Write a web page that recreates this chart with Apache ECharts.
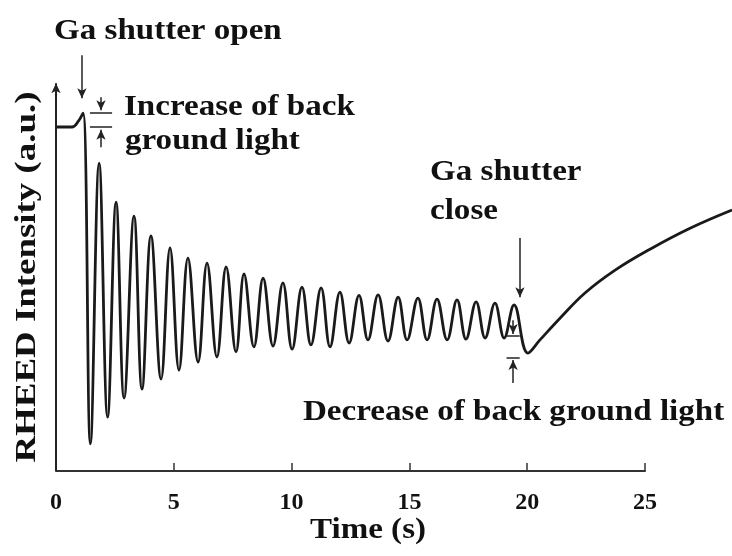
<!DOCTYPE html>
<html>
<head>
<meta charset="utf-8">
<script src="https://cdn.jsdelivr.net/npm/echarts@6/dist/echarts.min.js"></script>
<style>
  html, body { margin: 0; padding: 0; background: #ffffff; }
  #chart { width: 732px; height: 556px; }
</style>
</head>
<body>
<div id="chart"></div>
<script>
// ---- Data ----
// time (s) of each turning point of the RHEED trace
const timeS = [0, 0.68, 0.95, 1.15,
  1.46, 1.83, 2.19, 2.55, 2.89, 3.31, 3.65, 4.03, 4.46, 4.84, 5.22, 5.60, 6.03, 6.41, 6.83, 7.22,
  7.64, 7.98, 8.40, 8.79, 9.21, 9.63, 10.02, 10.44, 10.82, 11.25, 11.63, 12.05, 12.44, 12.86,
  13.24, 13.67, 14.09, 14.52, 14.90, 15.36, 15.75, 16.17, 16.60, 17.02, 17.40, 17.83, 18.21, 18.63, 19.02, 19.44,
  20.03, 20.54, 21.39, 22.45, 23.73, 25.21, 26.91, 28.69];
// RHEED intensity (a.u.) at those times
const intensity = [88.7, 88.7, 90.2, 92.3,
  7.0, 79.4, 13.9, 69.3, 18.8, 65.7, 21.1, 60.6, 23.7, 57.5, 26.0, 54.9, 28.1, 53.6, 29.4, 52.6,
  30.7, 50.8, 32.0, 49.7, 32.2, 48.5, 31.4, 47.4, 32.5, 47.2, 32.0, 46.1, 33.0, 45.3,
  33.8, 45.4, 33.5, 44.8, 33.8, 44.6, 33.8, 44.3, 33.8, 44.1, 34.0, 43.6, 34.3, 43.3, 34.3, 42.8,
  30.4, 33.8, 39.4, 45.9, 51.8, 57.2, 62.6, 67.3];

const xTickLabels = ['0', '5', '10', '15', '20', '25'];
const xTitle = 'Time (s)';
const yTitle = 'RHEED Intensity (a.u.)';

// annotation segments [from, to] in data units (time, intensity)
const yAxisArrow   = [[0, 0], [0, 100]];
const openArrow    = [[1.10, 107.2], [1.10, 96.1]];
const incTopArrow  = [[1.91, 96.4], [1.91, 93.0]];
const incTopBar    = [[1.44, 92.5], [2.38, 92.5]];
const incBotBar    = [[1.44, 88.7], [2.38, 88.7]];
const incBotArrow  = [[1.91, 83.5], [1.91, 88.0]];
const closeArrow   = [[19.69, 60.1], [19.69, 44.8]];
const decTopArrow  = [[19.40, 38.9], [19.40, 35.3]];
const decTopBar    = [[19.12, 34.8], [19.68, 34.8]];
const decBotBar    = [[19.12, 29.1], [19.68, 29.1]];
const decBotArrow  = [[19.40, 22.7], [19.40, 28.6]];

const annotationTexts = [
  'Ga shutter open', 'Increase of back', 'ground light',
  'Ga shutter', 'close', 'Decrease of back ground light'
];

// ---- Build chart ----
const FONT = '"Liberation Serif", "Times New Roman", serif';
const X_AXIS_END = 25;      // drawn axis ends at 25 s
const X_VIEW_END = 28.69;   // the trace runs on to the right edge of the figure
const Y_TOP = 115;          // room above the y-axis arrow for the annotations
const points = timeS.map((t, i) => [t, intensity[i]]);

function seg(s, arrow, width) {
  return [
    { coord: s[0], symbol: 'none' },
    { coord: s[1], symbol: arrow ? 'arrow' : 'none',
      lineStyle: { width: width || 1.5 } }
  ];
}

const chart = echarts.init(document.getElementById('chart'), null, { renderer: 'canvas' });

const textStyleBase = (size) => ({
  font: 'bold ' + size + 'px ' + FONT,
  fill: '#111111',
  align: 'left', textAlign: 'left',
  verticalAlign: 'middle', textVerticalAlign: 'middle'
});

const hiddenAxis = {
  axisLine: { show: false }, axisTick: { show: false },
  axisLabel: { show: false }, splitLine: { show: false }
};

chart.setOption({
  animation: false,
  backgroundColor: '#ffffff',
  grid: [
    { left: 56, right: 87, top: 25, bottom: 85, containLabel: false },
    { left: 56, right: 0, top: 25, bottom: 85, containLabel: false }
  ],
  xAxis: [{
    gridIndex: 0, type: 'value', min: 0, max: X_AXIS_END, interval: 5,
    axisLine: { show: true, lineStyle: { color: '#333333', width: 2 } },
    axisTick: { show: true, inside: true, length: 8, lineStyle: { color: '#333333', width: 1.5 } },
    axisLabel: {
      margin: 20, color: '#111111', fontFamily: FONT, fontWeight: 'bold', fontSize: 24,
      formatter: (v) => xTickLabels[Math.round(v / 5)]
    },
    splitLine: { show: false }
  }, Object.assign({ gridIndex: 1, type: 'value', min: 0, max: X_VIEW_END }, hiddenAxis)],
  yAxis: [
    Object.assign({ gridIndex: 0, type: 'value', min: 0, max: Y_TOP }, hiddenAxis),
    Object.assign({ gridIndex: 1, type: 'value', min: 0, max: Y_TOP }, hiddenAxis)
  ],
  series: [{
    type: 'line',
    xAxisIndex: 1, yAxisIndex: 1,
    data: points,
    smooth: 0.4,
    showSymbol: false,
    symbol: 'none',
    lineStyle: { color: '#1a1a1a', width: 2.8 },
    markLine: {
      silent: true,
      animation: false,
      symbolSize: [7, 10],
      label: { show: false },
      lineStyle: { color: '#222222', type: 'solid', width: 1.5 },
      data: [
        seg(yAxisArrow, true, 2),
        seg(openArrow, true),
        seg(incTopArrow, true),
        seg(incTopBar, false),
        seg(incBotBar, false),
        seg(incBotArrow, true),
        seg(closeArrow, true),
        seg(decTopArrow, true),
        seg(decTopBar, false),
        seg(decBotBar, false),
        seg(decBotArrow, true)
      ]
    }
  }],
  graphic: [
    { type: 'text', x: 54, y: 32, scaleX: 1.14, style: Object.assign({ text: annotationTexts[0] }, textStyleBase(29)) },
    { type: 'text', x: 124, y: 108, scaleX: 1.14, style: Object.assign({ text: annotationTexts[1] }, textStyleBase(29)) },
    { type: 'text', x: 125, y: 142, scaleX: 1.14, style: Object.assign({ text: annotationTexts[2] }, textStyleBase(29)) },
    { type: 'text', x: 430, y: 173, scaleX: 1.14, style: Object.assign({ text: annotationTexts[3] }, textStyleBase(29)) },
    { type: 'text', x: 430, y: 212, scaleX: 1.14, style: Object.assign({ text: annotationTexts[4] }, textStyleBase(29)) },
    { type: 'text', x: 303, y: 413, scaleX: 1.14, style: Object.assign({ text: annotationTexts[5] }, textStyleBase(29)) },
    { type: 'text', x: 310, y: 531, scaleX: 1.14, style: Object.assign({ text: xTitle }, textStyleBase(29)) },
    { type: 'text', x: 27, y: 277, rotation: Math.PI / 2, scaleX: 1.23,
      style: Object.assign({ text: yTitle }, textStyleBase(30), { align: 'center', textAlign: 'center' }) }
  ]
});
</script>
</body>
</html>
